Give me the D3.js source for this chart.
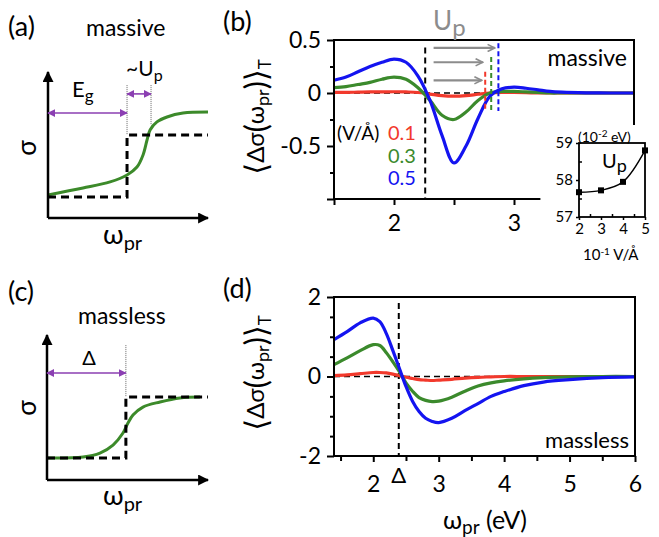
<!DOCTYPE html>
<html lang="en">
<head>
<meta charset="utf-8">
<title>D3: sigma panels</title>
<script src="https://d3js.org/d3.v7.min.js"></script>
<style>
body { margin: 0; background: #fff; }
text { font-family: Lato, "Open Sans", "DejaVu Sans", sans-serif; fill: #000; }
</style>
</head>
<body>
<script>
// ---- (b) massive: <Δσ> vs probe energy, three field strengths
var omegaB   = [1.5, 1.6, 1.7, 1.8, 1.9, 2.0, 2.1, 2.2, 2.3, 2.4, 2.5, 2.6, 2.7, 2.8, 2.9, 3.0, 3.1, 3.2, 3.3, 3.4, 3.6, 3.8, 4.0];
var dsigB_01 = [0.005, 0.006, 0.008, 0.01, 0.011, 0.012, 0.01, 0.005, -0.01, -0.025, -0.03, -0.025, -0.012, 0.0, 0.005, 0.005, 0.003, 0.0, 0, 0, 0, 0, 0];
var dsigB_03 = [0.05, 0.06, 0.08, 0.10, 0.13, 0.15, 0.13, 0.05, -0.07, -0.21, -0.25, -0.18, -0.07, 0.0, 0.015, 0.015, 0.01, 0.005, 0.0, 0, 0, 0, 0];
var dsigB_05 = [0.12, 0.15, 0.20, 0.25, 0.29, 0.32, 0.29, 0.16, -0.07, -0.40, -0.66, -0.50, -0.24, -0.03, 0.04, 0.055, 0.045, 0.03, 0.015, 0.008, 0.002, 0, 0];
var fieldLabels = ["0.1", "0.3", "0.5"];
var gapB = 2.26;
var upShiftB  = [2.76, 2.81, 2.87];   // shifted edge for each field
var upArrowStart = 2.33;
var upArrowEnd   = [2.73, 2.74, 2.84];
var upArrowLevel = [0.12, 0.29, 0.425];
var upDashTop    = [0.2, 0.34, 0.47];
var upDashBottom = -0.17;

// ---- inset: Up vs field
var insetField = [2, 3, 4, 5];
var insetUp    = [57.67, 57.72, 57.95, 58.8];

// ---- (d) massless
var omegaD   = [1.4, 1.6, 1.8, 2.0, 2.1, 2.2, 2.3, 2.4, 2.5, 2.6, 2.7, 2.8, 2.9, 3.0, 3.2, 3.4, 3.6, 3.8, 4.0, 4.3, 4.6, 5.0, 5.5, 6.0];
var dsigD_01 = [0.02, 0.04, 0.07, 0.10, 0.10, 0.09, 0.06, 0.02, -0.02, -0.05, -0.08, -0.09, -0.10, -0.09, -0.07, -0.04, -0.02, -0.01, 0, 0, 0, 0, 0, 0];
var dsigD_03 = [0.30, 0.47, 0.65, 0.80, 0.78, 0.60, 0.37, 0.12, -0.16, -0.37, -0.53, -0.60, -0.63, -0.62, -0.52, -0.37, -0.24, -0.16, -0.11, -0.06, -0.03, -0.01, 0, 0];
var dsigD_05 = [0.93, 1.13, 1.35, 1.47, 1.38, 1.08, 0.65, 0.20, -0.25, -0.62, -0.88, -1.05, -1.13, -1.16, -1.05, -0.86, -0.68, -0.50, -0.38, -0.23, -0.14, -0.08, -0.03, -0.01];
var gapD = 2.39;

// ---- schematics (a) and (c), arbitrary units 0..10
var stepA  = [[0, 1.44], [4.94, 1.44], [4.94, 5.68], [10, 5.68]];
var sigmaA = [[0, 1.58], [2.19, 2.05], [3.88, 2.47], [4.94, 2.95], [5.56, 3.49], [5.94, 4.32], [6.19, 5.34], [6.38, 6.03], [6.81, 6.58], [7.44, 6.92], [8.44, 7.19], [10, 7.26]];
var gapA = 4.94, upEdgeA = 6.44;
var stepC  = [[0, 1.52], [4.9, 1.52], [4.9, 5.72], [10, 5.72]];
var sigmaC = [[0, 1.52], [2.24, 1.59], [3.29, 1.86], [4.1, 2.41], [4.72, 3.24], [5.03, 3.93], [5.34, 4.48], [5.96, 5.03], [7.02, 5.38], [8.26, 5.66], [9.5, 5.72]];
var gapC = 4.9;

var colors = ["#f2392c", "#3b8a2c", "#1414f0"];
var purple = "#8b3fb2";
var green = "#3c8a2a";

var svg = d3.select("body").append("svg").attr("width", 659).attr("height", 537);
var defs = svg.append("defs");
function marker(id, color, w) {
  defs.append("marker").attr("id", id).attr("viewBox", "0 0 10 10")
    .attr("refX", 9).attr("refY", 5).attr("markerWidth", w).attr("markerHeight", w)
    .attr("markerUnits", "userSpaceOnUse").attr("orient", "auto-start-reverse")
    .append("path").attr("d", "M0,0 L10,5 L0,10 z").attr("fill", color);
}
marker("arrBlack", "#000", 11);
marker("arrPurple", purple, 8);
defs.append("marker").attr("id", "arrGray").attr("viewBox", "0 0 10 10")
  .attr("refX", 9).attr("refY", 5).attr("markerWidth", 9).attr("markerHeight", 9)
  .attr("markerUnits", "userSpaceOnUse").attr("orient", "auto")
  .append("path").attr("d", "M1,1 L9,5 L1,9").attr("fill", "none").attr("stroke", "#8c8c8c").attr("stroke-width", 1.8);

function txt(g, x, y, s, size, anchor) {
  return g.append("text").attr("x", x).attr("y", y).attr("text-anchor", anchor || "start")
    .style("font-size", size + "px").text(s);
}
// main text with a subscript part
function subTxt(g, x, y, main, sub, size, subSize, anchor, color) {
  var t = g.append("text").attr("x", x).attr("y", y).attr("text-anchor", anchor || "start")
    .style("font-size", size + "px");
  if (color) t.style("fill", color);
  t.append("tspan").text(main);
  t.append("tspan").attr("dy", size * 0.22).style("font-size", subSize + "px").text(sub);
  return t;
}
function yTitle(cx, cy) {
  var t = svg.append("text").attr("transform", "translate(" + cx + "," + cy + ") rotate(-90)")
    .attr("text-anchor", "middle").style("font-size", "24px");
  t.append("tspan").style("font-size", "31px").attr("dy", 3).text("⟨");
  t.append("tspan").attr("dy", -3).text("Δσ");
  t.append("tspan").style("font-size", "30px").attr("dy", 3).text("(");
  t.append("tspan").attr("dy", -3).text("ω");
  t.append("tspan").attr("dy", 5).style("font-size", "18px").text("pr");
  t.append("tspan").attr("dy", -2).style("font-size", "30px").text(")");
  t.append("tspan").style("font-size", "31px").text("⟩");
  t.append("tspan").attr("dy", 4).style("font-size", "17px").text("T");
}

// ================= schematic panels =================
function schematic(x0, x1, yBot, yTop, step, sigma) {
  var g = svg.append("g");
  var x = d3.scaleLinear().domain([0, 10]).range([x0, x1]);
  var y = d3.scaleLinear().domain([0, 10]).range([yBot, yTop]);
  var line = d3.line().x(function(d){ return x(d[0]); }).y(function(d){ return y(d[1]); });
  g.append("path").attr("d", line(sigma)).attr("fill", "none").attr("stroke", green)
    .attr("stroke-width", 3).datum(sigma).attr("d", line.curve(d3.curveCatmullRom));
  line.curve(d3.curveLinear);
  g.append("path").attr("d", line(step)).attr("fill", "none").attr("stroke", "#000")
    .attr("stroke-width", 3).attr("stroke-dasharray", "8,5");
  g.append("line").attr("x1", x(0)).attr("y1", y(0)).attr("x2", x(0)).attr("y2", y(10))
    .attr("stroke", "#000").attr("stroke-width", 2.5).attr("marker-end", "url(#arrBlack)");
  g.append("line").attr("x1", x(0)).attr("y1", y(0)).attr("x2", x(10)).attr("y2", y(0))
    .attr("stroke", "#000").attr("stroke-width", 2.5).attr("marker-end", "url(#arrBlack)");
  return {g: g, x: x, y: y};
}
function dotted(g, xp, y1, y2) {
  g.append("line").attr("x1", xp).attr("x2", xp).attr("y1", y1).attr("y2", y2)
    .attr("stroke", "#666").attr("stroke-width", 1).attr("stroke-dasharray", "1,1");
}
function pArrow(g, xa, xb, yp) {
  g.append("line").attr("x1", xa).attr("x2", xb).attr("y1", yp).attr("y2", yp)
    .attr("stroke", purple).attr("stroke-width", 1.6)
    .attr("marker-start", "url(#arrPurple)").attr("marker-end", "url(#arrPurple)");
}

// (a)
var A = schematic(48, 208, 218, 72, stepA, sigmaA);
dotted(A.g, A.x(gapA), A.y(9.1), A.y(5.68));
dotted(A.g, A.x(upEdgeA), A.y(9.1), A.y(6.4));
pArrow(A.g, A.x(0), A.x(gapA), A.y(7.19));
pArrow(A.g, A.x(gapA), A.x(upEdgeA), A.y(8.5));
txt(svg, 8, 36, "(a)", 27);
txt(svg, 86, 36, "massive", 23);
subTxt(svg, 72, 97, "E", "g", 22, 17);
subTxt(svg, 126, 76, "~U", "p", 21, 16);
svg.append("text").attr("transform", "translate(36,148) rotate(-90)").attr("text-anchor", "middle")
  .style("font-size", "26px").text("σ");
subTxt(svg, 103, 244, "ω", "pr", 27, 20);

// (c)
var C = schematic(47, 208, 480, 335, stepC, sigmaC);
dotted(C.g, C.x(gapC), C.y(9.3), C.y(5.72));
pArrow(C.g, C.x(0), C.x(gapC), C.y(7.38));
txt(svg, 8, 301, "(c)", 27);
txt(svg, 78, 324, "massless", 23);
txt(svg, 89, 365, "Δ", 20, "middle");
svg.append("text").attr("transform", "translate(36,408) rotate(-90)").attr("text-anchor", "middle")
  .style("font-size", "26px").text("σ");
subTxt(svg, 103, 505, "ω", "pr", 27, 20);

// ================= (b) =================
var xB = d3.scaleLinear().domain([1.5, 4]).range([334, 634]);
var yB = d3.scaleLinear().domain([-1, 0.5]).range([199, 40]);
var gB = svg.append("g");
var labelFmt = function(d){ return String(d); };

gB.append("line").attr("x1", xB(gapB)).attr("x2", xB(gapB)).attr("y1", yB(0.43)).attr("y2", yB(-1))
  .attr("stroke", "#000").attr("stroke-width", 2).attr("stroke-dasharray", "6,4");
gB.append("line").attr("x1", xB(1.5)).attr("x2", xB(4)).attr("y1", yB(0)).attr("y2", yB(0))
  .attr("stroke", "#000").attr("stroke-width", 1.6).attr("stroke-dasharray", "6,4");

var lineB = d3.line().curve(d3.curveCatmullRom)
  .x(function(d, i){ return xB(omegaB[i]); }).y(function(d){ return yB(d); });
[dsigB_01, dsigB_03, dsigB_05].forEach(function(s, i){
  gB.append("path").datum(s).attr("d", lineB).attr("fill", "none")
    .attr("stroke", colors[i]).attr("stroke-width", 3.2);
});

// Up shift markers
upShiftB.forEach(function(u, i){
  gB.append("line").attr("x1", xB(u)).attr("x2", xB(u)).attr("y1", yB(upDashTop[i])).attr("y2", yB(upDashBottom))
    .attr("stroke", colors[i]).attr("stroke-width", 2).attr("stroke-dasharray", "5,3");
  gB.append("line").attr("x1", xB(upArrowStart)).attr("x2", xB(upArrowEnd[i]))
    .attr("y1", yB(upArrowLevel[i])).attr("y2", yB(upArrowLevel[i]))
    .attr("stroke", "#8c8c8c").attr("stroke-width", 2.2).attr("marker-end", "url(#arrGray)");
});

// frame (inset covers the lower-right corner)
gB.append("path").attr("fill", "none").attr("stroke", "#000").attr("stroke-width", 2)
  .attr("d", "M" + xB(3.22) + "," + yB(-1) + "H" + xB(1.5) + "V" + yB(0.5) + "H" + xB(4) + "V" + 125);

gB.append("g").attr("transform", "translate(" + xB(1.5) + ",0)")
  .call(d3.axisLeft(yB).tickValues([-1, -0.5, 0, 0.5]).tickSize(7).tickPadding(6)
    .tickFormat(function(d){ return d === -1 ? "" : labelFmt(d); }));
gB.append("g").attr("transform", "translate(" + xB(1.5) + ",0)")
  .call(d3.axisLeft(yB).tickValues([-0.75, -0.25, 0.25]).tickSize(4).tickFormat(""));
gB.append("g").attr("transform", "translate(0," + yB(-1) + ")")
  .call(d3.axisBottom(xB).tickValues([1.5, 2, 2.5, 3]).tickSize(6).tickPadding(10)
    .tickFormat(function(d){ return d % 1 === 0 ? labelFmt(d) : ""; }));
gB.selectAll(".domain").remove();
gB.selectAll(".tick line").attr("stroke", "#000").attr("stroke-width", 2);
gB.selectAll(".tick text").style("font-size", "23px").attr("font-family", null);

txt(svg, 223, 31, "(b)", 27);
yTitle(264, 117);
subTxt(svg, 433, 30, "U", "p", 26, 24, "start", "#8c8c8c");
txt(svg, 627, 66, "massive", 23, "end");
txt(svg, 337, 140, "(V/Å)", 19);
fieldLabels.forEach(function(f, i){
  txt(svg, 388, 140 + i * 22.5, f, 20).style("fill", colors[i]);
});

// ---- inset
var xI = d3.scaleLinear().domain([2, 5]).range([579, 645]);
var yI = d3.scaleLinear().domain([57, 59]).range([217, 143]);
var gI = svg.append("g");
gI.append("rect").attr("x", xI(2)).attr("y", yI(59)).attr("width", xI(5) - xI(2)).attr("height", yI(57) - yI(59))
  .attr("fill", "#fff").attr("stroke", "#000").attr("stroke-width", 1.8);
gI.append("path").datum(insetUp).attr("fill", "none").attr("stroke", "#000").attr("stroke-width", 1.4)
  .attr("d", d3.line().curve(d3.curveCatmullRom).x(function(d, i){ return xI(insetField[i]); }).y(function(d){ return yI(d); }));
gI.selectAll("rect.pt").data(insetUp).enter().append("rect").attr("class", "pt")
  .attr("x", function(d, i){ return xI(insetField[i]) - 3; }).attr("y", function(d){ return yI(d) - 3; })
  .attr("width", 6).attr("height", 6).attr("fill", "#000");
gI.append("g").attr("transform", "translate(" + xI(2) + ",0)")
  .call(d3.axisLeft(yI).tickValues([57, 58, 59]).tickSize(3).tickPadding(3).tickFormat(labelFmt));
gI.append("g").attr("transform", "translate(" + xI(2) + ",0)")
  .call(d3.axisRight(yI).tickValues([57.5, 58.5]).tickSize(3).tickFormat(""));
gI.append("g").attr("transform", "translate(0," + yI(57) + ")")
  .call(d3.axisBottom(xI).tickValues(insetField).tickSize(3).tickPadding(3).tickFormat(labelFmt));
gI.append("g").attr("transform", "translate(0," + yI(57) + ")")
  .call(d3.axisTop(xI).tickValues([2.5, 3.5, 4.5]).tickSize(3).tickFormat(""));
gI.selectAll(".domain").remove();
gI.selectAll(".tick line").attr("stroke", "#000").attr("stroke-width", 1.5);
gI.selectAll(".tick text").style("font-size", "15px").attr("font-family", null);
var tI = gI.append("text").attr("x", 578).attr("y", 142).style("font-size", "14px");
tI.append("tspan").text("(10");
tI.append("tspan").attr("dy", -5).style("font-size", "10px").text("-2");
tI.append("tspan").attr("dy", 5).text(" eV)");
var tI2 = gI.append("text").attr("x", 583).attr("y", 260).style("font-size", "15px");
tI2.append("tspan").text("10");
tI2.append("tspan").attr("dy", -5).style("font-size", "10px").text("-1");
tI2.append("tspan").attr("dy", 5).text(" V/Å");
subTxt(gI, 602, 168, "U", "p", 20, 18);

// ================= (d) =================
var xD = d3.scaleLinear().domain([1.4, 6]).range([334, 635]);
var yD = d3.scaleLinear().domain([-2, 2]).range([456, 297]);
var gD = svg.append("g");
gD.append("line").attr("x1", xD(gapD)).attr("x2", xD(gapD)).attr("y1", yD(1.85)).attr("y2", yD(-2))
  .attr("stroke", "#000").attr("stroke-width", 2).attr("stroke-dasharray", "6,4");
gD.append("line").attr("x1", xD(1.4)).attr("x2", xD(6)).attr("y1", yD(0)).attr("y2", yD(0))
  .attr("stroke", "#000").attr("stroke-width", 1.6).attr("stroke-dasharray", "6,4");
var lineD = d3.line().curve(d3.curveCatmullRom)
  .x(function(d, i){ return xD(omegaD[i]); }).y(function(d){ return yD(d); });
[dsigD_01, dsigD_03, dsigD_05].forEach(function(s, i){
  gD.append("path").datum(s).attr("d", lineD).attr("fill", "none")
    .attr("stroke", colors[i]).attr("stroke-width", 3.2);
});
gD.append("rect").attr("x", xD(1.4)).attr("y", yD(2)).attr("width", xD(6) - xD(1.4)).attr("height", yD(-2) - yD(2))
  .attr("fill", "none").attr("stroke", "#000").attr("stroke-width", 2);
gD.append("g").attr("transform", "translate(" + xD(1.4) + ",0)")
  .call(d3.axisLeft(yD).tickValues([-2, 0, 2]).tickSize(7).tickPadding(6).tickFormat(labelFmt));
gD.append("g").attr("transform", "translate(" + xD(1.4) + ",0)")
  .call(d3.axisLeft(yD).tickValues([-1.5, -1, -0.5, 0.5, 1, 1.5]).tickSize(4).tickFormat(""));
gD.append("g").attr("transform", "translate(0," + yD(-2) + ")")
  .call(d3.axisBottom(xD).tickValues([2, 3, 4, 5, 6]).tickSize(6).tickPadding(14).tickFormat(labelFmt));
gD.append("g").attr("transform", "translate(0," + yD(-2) + ")")
  .call(d3.axisBottom(xD).tickValues([1.5, 2.5, 3.5, 4.5, 5.5]).tickSize(5).tickFormat(""));
gD.selectAll(".domain").remove();
gD.selectAll(".tick line").attr("stroke", "#000").attr("stroke-width", 2);
gD.selectAll(".tick text").style("font-size", "23px").attr("font-family", null);
txt(svg, xD(gapD), 483, "Δ", 22, "middle");

txt(svg, 223, 298, "(d)", 27);
yTitle(264, 373);
txt(svg, 629, 448, "massless", 22, "end");
var tx = svg.append("text").attr("x", 485).attr("y", 529).attr("text-anchor", "middle").style("font-size", "25px");
tx.append("tspan").text("ω");
tx.append("tspan").attr("dy", 5).style("font-size", "19px").text("pr");
tx.append("tspan").attr("dy", -5).text(" (eV)");
</script>
</body>
</html>
